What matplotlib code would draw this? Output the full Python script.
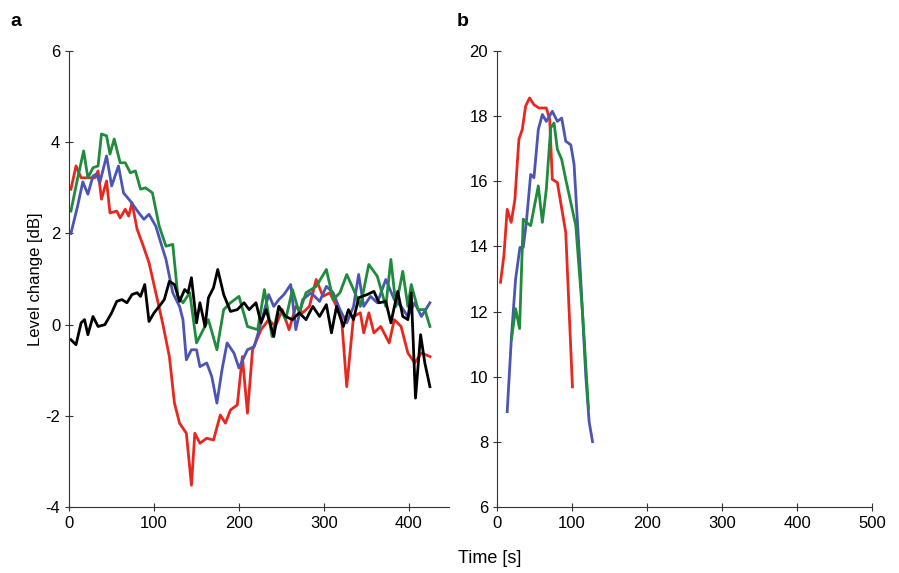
import matplotlib.pyplot as plt

# panel a: level change over time
t_red_a = [2, 8, 14, 30, 34, 38, 44, 48, 56, 60, 66, 70, 74, 80, 86, 94, 102, 110, 118, 124, 130, 138, 144, 148,
           154, 162, 170, 178, 184, 190, 198, 204, 210, 216, 226, 235, 243, 251, 259, 267, 275, 283, 291, 299,
           307, 315, 321, 327, 335, 343, 347, 353, 359, 367, 377, 383, 391, 399, 407, 415, 425]
v_red_a = [2.97, 3.48, 3.22, 3.22, 3.37, 2.75, 3.15, 2.45, 2.49, 2.34, 2.53, 2.38, 2.67, 2.09, 1.79, 1.36, 0.70,
           0.04, -0.70, -1.72, -2.16, -2.38, -3.52, -2.38, -2.60, -2.49, -2.53, -1.98, -2.16, -1.87, -1.76, -0.70,
           -1.94, -0.55, -0.11, 0.11, -0.04, 0.33, -0.11, 0.40, 0.26, 0.40, 0.99, 0.62, 0.70, 0.40, 0.11, -1.36,
           0.18, 0.26, -0.18, 0.26, -0.18, -0.04, -0.40, 0.11, -0.04, -0.62, -0.84, -0.62, -0.70]

t_blue_a = [2, 10, 16, 22, 28, 32, 36, 44, 50, 58, 64, 72, 82, 88, 94, 102, 108, 114, 122, 130, 134, 138, 144,
            150, 154, 162, 168, 174, 180, 186, 194, 200, 210, 218, 226, 235, 241, 247, 253, 261, 267, 275, 285,
            295, 303, 311, 319, 327, 335, 341, 347, 355, 363, 373, 383, 391, 399, 407, 415, 425]
v_blue_a = [2.00, 2.61, 3.13, 2.86, 3.26, 3.30, 3.11, 3.70, 3.04, 3.48, 2.89, 2.71, 2.45, 2.31, 2.42, 2.16, 1.79,
            1.43, 0.70, 0.40, 0.11, -0.77, -0.55, -0.55, -0.92, -0.84, -1.14, -1.72, -0.99, -0.40, -0.62, -0.95,
            -0.55, -0.48, 0.04, 0.66, 0.40, 0.55, 0.66, 0.88, -0.11, 0.55, 0.70, 0.51, 0.84, 0.70, 0.33, 0.04,
            0.40, 1.10, 0.40, 0.62, 0.48, 0.99, 0.55, 0.40, 0.18, 0.48, 0.18, 0.48]

t_green_a = [2, 10, 17, 22, 28, 34, 38, 44, 48, 53, 60, 66, 72, 78, 84, 90, 98, 106, 114, 122, 128, 134, 142,
             150, 156, 164, 174, 182, 190, 200, 210, 222, 230, 239, 247, 255, 263, 271, 279, 291, 303, 311, 319,
             327, 335, 343, 353, 363, 373, 379, 385, 393, 399, 403, 411, 419, 425]
v_green_a = [2.49, 3.22, 3.81, 3.22, 3.44, 3.48, 4.18, 4.14, 3.74, 4.07, 3.55, 3.55, 3.33, 3.37, 2.97, 3.00,
             2.89, 2.16, 1.72, 1.76, 0.62, 0.48, 0.70, -0.40, -0.18, 0.11, -0.55, 0.33, 0.48, 0.62, -0.04, -0.11,
             0.77, -0.26, 0.40, 0.11, 0.77, 0.26, 0.70, 0.84, 1.21, 0.55, 0.70, 1.10, 0.77, 0.40, 1.32, 1.06,
             0.40, 1.43, 0.40, 1.17, 0.40, 0.88, 0.33, 0.33, -0.04]

t_black_a = [2, 8, 14, 18, 22, 28, 34, 42, 50, 56, 62, 68, 74, 80, 84, 89, 94, 100, 106, 112, 118, 124, 130, 136,
             140, 144, 150, 154, 160, 164, 170, 175, 182, 190, 198, 206, 212, 220, 226, 232, 241, 247, 255, 263,
             271, 279, 287, 295, 303, 309, 315, 323, 329, 335, 341, 351, 359, 365, 373, 379, 387, 393, 399, 403,
             408, 414, 419, 425]
v_black_a = [-0.33, -0.44, 0.04, 0.11, -0.22, 0.18, -0.04, 0.00, 0.26, 0.51, 0.55, 0.48, 0.66, 0.70, 0.62, 0.88,
             0.07, 0.26, 0.40, 0.55, 0.95, 0.88, 0.51, 0.77, 0.70, 1.03, 0.04, 0.48, -0.04, 0.59, 0.81, 1.21, 0.66,
             0.29, 0.33, 0.48, 0.33, 0.48, 0.04, 0.33, -0.26, 0.40, 0.18, 0.11, 0.26, 0.11, 0.40, 0.18, 0.44, -0.18,
             0.40, -0.04, 0.33, 0.11, 0.59, 0.66, 0.73, 0.48, 0.51, 0.04, 0.73, 0.18, 0.11, 0.70, -1.61, -0.22,
             -0.84, -1.36]

# panel b
t_red_b = [4.5, 9, 13.4, 18.8, 23.7, 29, 33.5, 38, 43.3, 49.1, 55.8, 65.6, 70.1, 73.6, 80.3, 91.5, 100.4]
v_red_b = [12.90, 13.72, 15.14, 14.74, 15.45, 17.29, 17.59, 18.31, 18.56, 18.35, 18.25, 18.25, 17.90, 16.06,
           15.96, 14.43, 9.69]
t_blue_b = [13.4, 19.2, 24.6, 30.4, 34.8, 38.9, 44.7, 49.1, 54.9, 60.3, 65.6, 73.6, 80.3, 86.1, 91.5, 98.2,
            102.6, 111.5, 118.2, 122.7, 127.2]
v_blue_b = [8.93, 11.27, 13.00, 13.97, 13.97, 14.73, 16.21, 16.11, 17.59, 18.05, 17.84, 18.15, 17.84, 17.94,
            17.23, 17.12, 16.52, 13.00, 10.03, 8.62, 8.01]
t_green_b = [19.2, 24.6, 29.9, 34.8, 38.9, 44.7, 54.9, 60.3, 65.6, 71.4, 75.9, 80.3, 86.1, 91.5, 104.9, 113.8,
             121.8]
v_green_b = [11.17, 12.09, 11.48, 14.84, 14.74, 14.64, 15.86, 14.74, 15.76, 17.64, 17.79, 16.98, 16.67, 16.06,
             14.64, 11.99, 9.03]

RED, BLUE, GREEN = '#e8281e', '#4b55b4', '#1e8c3c'

plt.rcParams['font.family'] = ['Liberation Sans', 'DejaVu Sans']
plt.rcParams['axes.unicode_minus'] = False
fig = plt.figure(figsize=(8.99, 5.73), dpi=100)
ax_a = fig.add_axes([0.077, 0.115, 0.422, 0.796])
ax_b = fig.add_axes([0.553, 0.115, 0.417, 0.796])

ax_a.plot(t_red_a, v_red_a, color=RED, lw=2)
ax_a.plot(t_blue_a, v_blue_a, color=BLUE, lw=2)
ax_a.plot(t_green_a, v_green_a, color=GREEN, lw=2)
ax_a.plot(t_black_a, v_black_a, color='black', lw=2)
ax_a.set_xlim(0, 447)
ax_a.set_ylim(-4, 6)
ax_a.set_xticks([0, 100, 200, 300, 400])
ax_a.set_yticks(range(-4, 7, 2))
ax_a.set_ylabel('Level change [dB]', fontsize=12, labelpad=2)

ax_b.plot(t_red_b, v_red_b, color=RED, lw=2)
ax_b.plot(t_blue_b, v_blue_b, color=BLUE, lw=2)
ax_b.plot(t_green_b, v_green_b, color=GREEN, lw=2)
ax_b.set_xlim(0, 500)
ax_b.set_ylim(6, 20)
ax_b.set_xticks(range(0, 501, 100))
ax_b.set_yticks(range(6, 21, 2))

for ax in (ax_a, ax_b):
    for s in ('top', 'right'):
        ax.spines[s].set_visible(False)
    ax.spines['left'].set_color('#333333')
    ax.spines['bottom'].set_color('#333333')
    ax.tick_params(direction='inout', length=6, labelsize=12, color='#333333')

fig.text(0.545, 0.018, 'Time [s]', fontsize=13, ha='center')
fig.text(0.012, 0.955, 'a', fontsize=14, fontweight='bold')
fig.text(0.508, 0.955, 'b', fontsize=14, fontweight='bold')

fig.savefig('out.png', dpi=100)
